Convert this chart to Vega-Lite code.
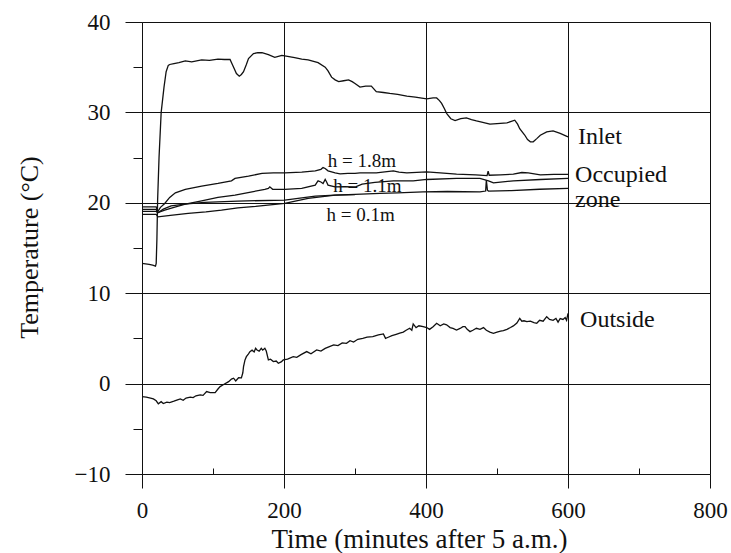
{
  "$schema": "https://vega.github.io/schema/vega-lite/v6.json",
  "width": 568,
  "height": 452,
  "autosize": {"type": "none"},
  "padding": {"left": 142, "top": 22, "right": 21, "bottom": 79},
  "background": "white",
  "config": {"view": {"stroke": null}, "font": "Liberation Serif"},
  "datasets": {
    "lines": [
      {"series": "Inlet", "t": 0, "T": 13.3}, {"series": "Inlet", "t": 10, "T": 13.2}, {"series": "Inlet", "t": 15, "T": 13.1}, {"series": "Inlet", "t": 19, "T": 13.0}, {"series": "Inlet", "t": 20, "T": 13.3}, {"series": "Inlet", "t": 21, "T": 16}, {"series": "Inlet", "t": 22, "T": 20.3}, {"series": "Inlet", "t": 24, "T": 25}, {"series": "Inlet", "t": 27, "T": 30}, {"series": "Inlet", "t": 31, "T": 32.8}, {"series": "Inlet", "t": 34, "T": 34.5}, {"series": "Inlet", "t": 37, "T": 35.2}, {"series": "Inlet", "t": 39, "T": 35.3}, {"series": "Inlet", "t": 45, "T": 35.4}, {"series": "Inlet", "t": 52, "T": 35.5}, {"series": "Inlet", "t": 61, "T": 35.7}, {"series": "Inlet", "t": 70, "T": 35.6}, {"series": "Inlet", "t": 84, "T": 35.8}, {"series": "Inlet", "t": 95, "T": 35.75}, {"series": "Inlet", "t": 107, "T": 35.9}, {"series": "Inlet", "t": 116, "T": 35.85}, {"series": "Inlet", "t": 124, "T": 35.85}, {"series": "Inlet", "t": 129, "T": 35.0}, {"series": "Inlet", "t": 133, "T": 34.3}, {"series": "Inlet", "t": 137, "T": 34.0}, {"series": "Inlet", "t": 140, "T": 34.2}, {"series": "Inlet", "t": 143, "T": 34.5}, {"series": "Inlet", "t": 147, "T": 35.3}, {"series": "Inlet", "t": 150, "T": 35.95}, {"series": "Inlet", "t": 157, "T": 36.5}, {"series": "Inlet", "t": 163, "T": 36.6}, {"series": "Inlet", "t": 169, "T": 36.6}, {"series": "Inlet", "t": 178, "T": 36.4}, {"series": "Inlet", "t": 187, "T": 36.1}, {"series": "Inlet", "t": 192, "T": 36.2}, {"series": "Inlet", "t": 197, "T": 36.3}, {"series": "Inlet", "t": 205, "T": 36.2}, {"series": "Inlet", "t": 215, "T": 36.05}, {"series": "Inlet", "t": 225, "T": 35.9}, {"series": "Inlet", "t": 234, "T": 35.8}, {"series": "Inlet", "t": 248, "T": 35.5}, {"series": "Inlet", "t": 258, "T": 35.0}, {"series": "Inlet", "t": 262, "T": 34.6}, {"series": "Inlet", "t": 267, "T": 33.9}, {"series": "Inlet", "t": 272, "T": 33.6}, {"series": "Inlet", "t": 277, "T": 33.4}, {"series": "Inlet", "t": 284, "T": 33.5}, {"series": "Inlet", "t": 291, "T": 33.6}, {"series": "Inlet", "t": 296, "T": 33.4}, {"series": "Inlet", "t": 300, "T": 33.2}, {"series": "Inlet", "t": 307, "T": 32.8}, {"series": "Inlet", "t": 315, "T": 32.9}, {"series": "Inlet", "t": 323, "T": 32.9}, {"series": "Inlet", "t": 330, "T": 32.3}, {"series": "Inlet", "t": 340, "T": 32.2}, {"series": "Inlet", "t": 349, "T": 32.1}, {"series": "Inlet", "t": 360, "T": 32.0}, {"series": "Inlet", "t": 373, "T": 31.8}, {"series": "Inlet", "t": 385, "T": 31.7}, {"series": "Inlet", "t": 401, "T": 31.5}, {"series": "Inlet", "t": 410, "T": 31.6}, {"series": "Inlet", "t": 415, "T": 31.6}, {"series": "Inlet", "t": 419, "T": 31.3}, {"series": "Inlet", "t": 422, "T": 31.0}, {"series": "Inlet", "t": 426, "T": 30.4}, {"series": "Inlet", "t": 429, "T": 29.9}, {"series": "Inlet", "t": 435, "T": 29.3}, {"series": "Inlet", "t": 441, "T": 29.1}, {"series": "Inlet", "t": 449, "T": 29.3}, {"series": "Inlet", "t": 457, "T": 29.4}, {"series": "Inlet", "t": 464, "T": 29.2}, {"series": "Inlet", "t": 471, "T": 29.06}, {"series": "Inlet", "t": 480, "T": 28.9}, {"series": "Inlet", "t": 490, "T": 28.7}, {"series": "Inlet", "t": 500, "T": 28.75}, {"series": "Inlet", "t": 514, "T": 28.84}, {"series": "Inlet", "t": 525, "T": 29.14}, {"series": "Inlet", "t": 529, "T": 28.7}, {"series": "Inlet", "t": 532, "T": 28.2}, {"series": "Inlet", "t": 539, "T": 27.5}, {"series": "Inlet", "t": 543, "T": 27.0}, {"series": "Inlet", "t": 547, "T": 26.74}, {"series": "Inlet", "t": 551, "T": 26.75}, {"series": "Inlet", "t": 556, "T": 27.1}, {"series": "Inlet", "t": 561, "T": 27.48}, {"series": "Inlet", "t": 570, "T": 27.85}, {"series": "Inlet", "t": 579, "T": 27.96}, {"series": "Inlet", "t": 589, "T": 27.67}, {"series": "Inlet", "t": 600, "T": 27.3},

      {"series": "h18", "t": 0, "T": 19.55}, {"series": "h18", "t": 20, "T": 19.55}, {"series": "h18", "t": 22, "T": 19.0}, {"series": "h18", "t": 26, "T": 19.5}, {"series": "h18", "t": 32, "T": 19.93}, {"series": "h18", "t": 39, "T": 20.6}, {"series": "h18", "t": 47, "T": 21.1}, {"series": "h18", "t": 61, "T": 21.48}, {"series": "h18", "t": 84, "T": 21.85}, {"series": "h18", "t": 107, "T": 22.14}, {"series": "h18", "t": 126, "T": 22.43}, {"series": "h18", "t": 131, "T": 22.7}, {"series": "h18", "t": 150, "T": 22.95}, {"series": "h18", "t": 169, "T": 23.25}, {"series": "h18", "t": 185, "T": 23.3}, {"series": "h18", "t": 201, "T": 23.3}, {"series": "h18", "t": 225, "T": 23.4}, {"series": "h18", "t": 244, "T": 23.54}, {"series": "h18", "t": 252, "T": 23.7}, {"series": "h18", "t": 255, "T": 23.9}, {"series": "h18", "t": 258, "T": 23.8}, {"series": "h18", "t": 262, "T": 23.54}, {"series": "h18", "t": 272, "T": 23.3}, {"series": "h18", "t": 279, "T": 23.2}, {"series": "h18", "t": 290, "T": 23.25}, {"series": "h18", "t": 300, "T": 23.25}, {"series": "h18", "t": 307, "T": 23.3}, {"series": "h18", "t": 330, "T": 23.3}, {"series": "h18", "t": 345, "T": 23.45}, {"series": "h18", "t": 354, "T": 23.54}, {"series": "h18", "t": 362, "T": 23.4}, {"series": "h18", "t": 373, "T": 23.3}, {"series": "h18", "t": 401, "T": 23.43}, {"series": "h18", "t": 420, "T": 23.3}, {"series": "h18", "t": 443, "T": 23.17}, {"series": "h18", "t": 470, "T": 23.1}, {"series": "h18", "t": 486, "T": 23.0}, {"series": "h18", "t": 487.5, "T": 23.5}, {"series": "h18", "t": 489, "T": 23.05}, {"series": "h18", "t": 505, "T": 23.1}, {"series": "h18", "t": 523, "T": 23.17}, {"series": "h18", "t": 535, "T": 23.35}, {"series": "h18", "t": 544, "T": 23.3}, {"series": "h18", "t": 561, "T": 23.1}, {"series": "h18", "t": 580, "T": 23.15}, {"series": "h18", "t": 600, "T": 23.14},

      {"series": "h11", "t": 0, "T": 19.27}, {"series": "h11", "t": 20, "T": 19.27}, {"series": "h11", "t": 22, "T": 18.9}, {"series": "h11", "t": 32, "T": 19.2}, {"series": "h11", "t": 45, "T": 19.5}, {"series": "h11", "t": 61, "T": 19.86}, {"series": "h11", "t": 84, "T": 20.22}, {"series": "h11", "t": 107, "T": 20.6}, {"series": "h11", "t": 131, "T": 20.85}, {"series": "h11", "t": 155, "T": 21.22}, {"series": "h11", "t": 173, "T": 21.48}, {"series": "h11", "t": 178, "T": 21.6}, {"series": "h11", "t": 180, "T": 21.77}, {"series": "h11", "t": 184, "T": 21.5}, {"series": "h11", "t": 201, "T": 21.48}, {"series": "h11", "t": 225, "T": 21.6}, {"series": "h11", "t": 244, "T": 21.96}, {"series": "h11", "t": 246, "T": 22.2}, {"series": "h11", "t": 248, "T": 22.43}, {"series": "h11", "t": 252, "T": 22.3}, {"series": "h11", "t": 255, "T": 22.14}, {"series": "h11", "t": 258, "T": 22.58}, {"series": "h11", "t": 260, "T": 22.3}, {"series": "h11", "t": 262, "T": 21.96}, {"series": "h11", "t": 272, "T": 21.77}, {"series": "h11", "t": 285, "T": 21.8}, {"series": "h11", "t": 300, "T": 21.75}, {"series": "h11", "t": 310, "T": 22.07}, {"series": "h11", "t": 328, "T": 22.25}, {"series": "h11", "t": 354, "T": 22.43}, {"series": "h11", "t": 382, "T": 22.43}, {"series": "h11", "t": 401, "T": 22.58}, {"series": "h11", "t": 443, "T": 22.7}, {"series": "h11", "t": 476, "T": 22.7}, {"series": "h11", "t": 488, "T": 22.43}, {"series": "h11", "t": 495, "T": 22.2}, {"series": "h11", "t": 523, "T": 22.43}, {"series": "h11", "t": 561, "T": 22.58}, {"series": "h11", "t": 600, "T": 22.7},

      {"series": "h06", "t": 0, "T": 19.05}, {"series": "h06", "t": 20, "T": 19.05}, {"series": "h06", "t": 22.5, "T": 18.9}, {"series": "h06", "t": 30, "T": 19.3}, {"series": "h06", "t": 41, "T": 19.67}, {"series": "h06", "t": 60, "T": 19.85}, {"series": "h06", "t": 88, "T": 20.04}, {"series": "h06", "t": 135, "T": 20.19}, {"series": "h06", "t": 201, "T": 20.3}, {"series": "h06", "t": 244, "T": 20.74}, {"series": "h06", "t": 272, "T": 20.85}, {"series": "h06", "t": 300, "T": 20.93}, {"series": "h06", "t": 335, "T": 21.05}, {"series": "h06", "t": 360, "T": 21.1}, {"series": "h06", "t": 396, "T": 21.2}, {"series": "h06", "t": 430, "T": 21.25}, {"series": "h06", "t": 476, "T": 21.2}, {"series": "h06", "t": 484, "T": 21.3}, {"series": "h06", "t": 485, "T": 22.5}, {"series": "h06", "t": 486.5, "T": 21.4}, {"series": "h06", "t": 488, "T": 21.3}, {"series": "h06", "t": 520, "T": 21.35}, {"series": "h06", "t": 560, "T": 21.5}, {"series": "h06", "t": 600, "T": 21.6},

      {"series": "h01", "t": 0, "T": 18.72}, {"series": "h01", "t": 20, "T": 18.72}, {"series": "h01", "t": 22.5, "T": 18.45}, {"series": "h01", "t": 40, "T": 18.6}, {"series": "h01", "t": 65, "T": 18.83}, {"series": "h01", "t": 90, "T": 19.0}, {"series": "h01", "t": 112, "T": 19.2}, {"series": "h01", "t": 135, "T": 19.45}, {"series": "h01", "t": 160, "T": 19.6}, {"series": "h01", "t": 201, "T": 19.93}, {"series": "h01", "t": 234, "T": 20.5}, {"series": "h01", "t": 272, "T": 20.85}, {"series": "h01", "t": 300, "T": 20.9},

      {"series": "Outside", "t": 0, "T": -1.44}, {"series": "Outside", "t": 6, "T": -1.5}, {"series": "Outside", "t": 12, "T": -1.6}, {"series": "Outside", "t": 16, "T": -1.7}, {"series": "Outside", "t": 20, "T": -1.9}, {"series": "Outside", "t": 23, "T": -2.24}, {"series": "Outside", "t": 27, "T": -2.0}, {"series": "Outside", "t": 30, "T": -2.2}, {"series": "Outside", "t": 35, "T": -2.05}, {"series": "Outside", "t": 39, "T": -2.1}, {"series": "Outside", "t": 45, "T": -1.95}, {"series": "Outside", "t": 50, "T": -1.8}, {"series": "Outside", "t": 54, "T": -1.7}, {"series": "Outside", "t": 58, "T": -1.85}, {"series": "Outside", "t": 62, "T": -1.6}, {"series": "Outside", "t": 68, "T": -1.5}, {"series": "Outside", "t": 72, "T": -1.55}, {"series": "Outside", "t": 76, "T": -1.35}, {"series": "Outside", "t": 82, "T": -1.25}, {"series": "Outside", "t": 86, "T": -1.3}, {"series": "Outside", "t": 91, "T": -0.88}, {"series": "Outside", "t": 96, "T": -1.0}, {"series": "Outside", "t": 103, "T": -1.0}, {"series": "Outside", "t": 107, "T": -0.6}, {"series": "Outside", "t": 110, "T": -0.33}, {"series": "Outside", "t": 115, "T": -0.1}, {"series": "Outside", "t": 122, "T": 0.22}, {"series": "Outside", "t": 126, "T": 0.5}, {"series": "Outside", "t": 129, "T": 0.6}, {"series": "Outside", "t": 132, "T": 0.3}, {"series": "Outside", "t": 136, "T": 0.65}, {"series": "Outside", "t": 140, "T": 0.63}, {"series": "Outside", "t": 142, "T": 1.2}, {"series": "Outside", "t": 143, "T": 1.88}, {"series": "Outside", "t": 145, "T": 2.6}, {"series": "Outside", "t": 147, "T": 2.98}, {"series": "Outside", "t": 150, "T": 3.3}, {"series": "Outside", "t": 152, "T": 3.54}, {"series": "Outside", "t": 155, "T": 3.7}, {"series": "Outside", "t": 158, "T": 3.5}, {"series": "Outside", "t": 160, "T": 3.9}, {"series": "Outside", "t": 162, "T": 3.72}, {"series": "Outside", "t": 165, "T": 3.6}, {"series": "Outside", "t": 168, "T": 3.9}, {"series": "Outside", "t": 170, "T": 3.7}, {"series": "Outside", "t": 173, "T": 3.91}, {"series": "Outside", "t": 175, "T": 3.6}, {"series": "Outside", "t": 178, "T": 2.62}, {"series": "Outside", "t": 181, "T": 2.7}, {"series": "Outside", "t": 185, "T": 2.44}, {"series": "Outside", "t": 189, "T": 2.5}, {"series": "Outside", "t": 192, "T": 2.25}, {"series": "Outside", "t": 196, "T": 2.4}, {"series": "Outside", "t": 199, "T": 2.62}, {"series": "Outside", "t": 205, "T": 2.7}, {"series": "Outside", "t": 213, "T": 2.98}, {"series": "Outside", "t": 218, "T": 2.9}, {"series": "Outside", "t": 224, "T": 3.2}, {"series": "Outside", "t": 232, "T": 3.54}, {"series": "Outside", "t": 238, "T": 3.3}, {"series": "Outside", "t": 246, "T": 3.72}, {"series": "Outside", "t": 252, "T": 3.6}, {"series": "Outside", "t": 258, "T": 3.9}, {"series": "Outside", "t": 264, "T": 4.1}, {"series": "Outside", "t": 270, "T": 4.28}, {"series": "Outside", "t": 276, "T": 4.2}, {"series": "Outside", "t": 282, "T": 4.5}, {"series": "Outside", "t": 288, "T": 4.45}, {"series": "Outside", "t": 293, "T": 4.75}, {"series": "Outside", "t": 298, "T": 4.6}, {"series": "Outside", "t": 304, "T": 4.9}, {"series": "Outside", "t": 311, "T": 5.0}, {"series": "Outside", "t": 317, "T": 5.13}, {"series": "Outside", "t": 325, "T": 5.2}, {"series": "Outside", "t": 333, "T": 5.4}, {"series": "Outside", "t": 340, "T": 5.49}, {"series": "Outside", "t": 343, "T": 5.0}, {"series": "Outside", "t": 346, "T": 5.1}, {"series": "Outside", "t": 352, "T": 5.3}, {"series": "Outside", "t": 358, "T": 5.45}, {"series": "Outside", "t": 363, "T": 5.58}, {"series": "Outside", "t": 368, "T": 5.7}, {"series": "Outside", "t": 372, "T": 5.9}, {"series": "Outside", "t": 377, "T": 6.12}, {"series": "Outside", "t": 380, "T": 5.9}, {"series": "Outside", "t": 382, "T": 6.6}, {"series": "Outside", "t": 386, "T": 6.2}, {"series": "Outside", "t": 390, "T": 6.4}, {"series": "Outside", "t": 396, "T": 6.3}, {"series": "Outside", "t": 401, "T": 6.2}, {"series": "Outside", "t": 405, "T": 6.0}, {"series": "Outside", "t": 410, "T": 6.3}, {"series": "Outside", "t": 415, "T": 6.67}, {"series": "Outside", "t": 420, "T": 6.4}, {"series": "Outside", "t": 425, "T": 6.6}, {"series": "Outside", "t": 429, "T": 6.5}, {"series": "Outside", "t": 434, "T": 6.2}, {"series": "Outside", "t": 438, "T": 6.1}, {"series": "Outside", "t": 443, "T": 5.93}, {"series": "Outside", "t": 448, "T": 6.1}, {"series": "Outside", "t": 452, "T": 6.3}, {"series": "Outside", "t": 455, "T": 6.3}, {"series": "Outside", "t": 458, "T": 6.0}, {"series": "Outside", "t": 462, "T": 5.75}, {"series": "Outside", "t": 466, "T": 5.9}, {"series": "Outside", "t": 471, "T": 6.12}, {"series": "Outside", "t": 476, "T": 6.0}, {"series": "Outside", "t": 481, "T": 6.2}, {"series": "Outside", "t": 485, "T": 5.9}, {"series": "Outside", "t": 490, "T": 5.7}, {"series": "Outside", "t": 495, "T": 5.57}, {"series": "Outside", "t": 500, "T": 5.7}, {"series": "Outside", "t": 505, "T": 5.8}, {"series": "Outside", "t": 509, "T": 5.85}, {"series": "Outside", "t": 514, "T": 6.0}, {"series": "Outside", "t": 519, "T": 6.2}, {"series": "Outside", "t": 523, "T": 6.38}, {"series": "Outside", "t": 528, "T": 6.7}, {"series": "Outside", "t": 532, "T": 7.22}, {"series": "Outside", "t": 535, "T": 6.9}, {"series": "Outside", "t": 538, "T": 6.95}, {"series": "Outside", "t": 542, "T": 6.85}, {"series": "Outside", "t": 547, "T": 6.9}, {"series": "Outside", "t": 552, "T": 6.75}, {"series": "Outside", "t": 556, "T": 6.67}, {"series": "Outside", "t": 560, "T": 7.0}, {"series": "Outside", "t": 565, "T": 6.9}, {"series": "Outside", "t": 570, "T": 7.4}, {"series": "Outside", "t": 574, "T": 7.1}, {"series": "Outside", "t": 579, "T": 7.0}, {"series": "Outside", "t": 583, "T": 7.2}, {"series": "Outside", "t": 586, "T": 6.8}, {"series": "Outside", "t": 589, "T": 7.2}, {"series": "Outside", "t": 593, "T": 7.1}, {"series": "Outside", "t": 596, "T": 7.3}, {"series": "Outside", "t": 598, "T": 7.0}, {"series": "Outside", "t": 600, "T": 7.78}
    ],
    "bigLabels": [
      {"label": "Inlet", "t": 614, "T": 26.45},
      {"label": "Occupied", "t": 610, "T": 22.32},
      {"label": "zone", "t": 610, "T": 19.5},
      {"label": "Outside", "t": 617, "T": 6.23}
    ],
    "smallLabels": [
      {"label": "h = 1.8m", "t": 261.5, "T": 23.98},
      {"label": "h = 1.1m", "t": 269.5, "T": 21.2},
      {"label": "h = 0.1m", "t": 260, "T": 18.0}
    ]
  },
  "layer": [
    {
      "data": {"name": "lines"},
      "mark": {"type": "line", "color": "#111111", "strokeWidth": 1.3},
      "encoding": {
        "x": {
          "field": "t", "type": "quantitative",
          "scale": {"domain": [0, 800], "nice": false, "zero": false},
          "axis": {
            "values": [0, 100, 200, 300, 400, 500, 600, 700, 800],
            "grid": true,
            "gridColor": "#111111",
            "gridWidth": 1,
            "gridOpacity": {"condition": {"test": "datum.value % 200 === 0", "value": 1}, "value": 0},
            "tickColor": "#111111",
            "tickSize": {"condition": {"test": "datum.value % 200 === 0", "value": 14}, "value": -6},
            "labelExpr": "datum.value % 200 === 0 ? datum.label : ''",
            "labelFlush": false,
            "labelOverlap": false,
            "labelFont": "Liberation Serif",
            "labelFontSize": 23,
            "labelColor": "#111111",
            "labelPadding": 11,
            "domainColor": "#111111",
            "title": "Time (minutes after 5 a.m.)",
            "titleFont": "Liberation Serif",
            "titleFontSize": 27,
            "titleFontWeight": "normal",
            "titleColor": "#111111",
            "titleBaseline": "alphabetic",
            "titleAlign": "center",
            "titleX": 277,
            "titleY": 73
          }
        },
        "y": {
          "field": "T", "type": "quantitative",
          "scale": {"domain": [-10, 40], "nice": false, "zero": false},
          "axis": {
            "values": [-10, -5, 0, 5, 10, 15, 20, 25, 30, 35, 40],
            "grid": true,
            "gridColor": "#111111",
            "gridWidth": 1,
            "gridOpacity": {"condition": {"test": "datum.value % 10 === 0", "value": 1}, "value": 0},
            "tickColor": "#111111",
            "tickSize": {"condition": {"test": "datum.value % 10 === 0", "value": 17}, "value": 9},
            "labelExpr": "datum.value % 10 === 0 ? datum.label : ''",
            "labelFlush": false,
            "labelOverlap": false,
            "labelFont": "Liberation Serif",
            "labelFontSize": 23,
            "labelColor": "#111111",
            "labelPadding": 15,
            "domainColor": "#111111",
            "title": "Temperature (°C)",
            "titleFont": "Liberation Serif",
            "titleFontSize": 26,
            "titleFontWeight": "normal",
            "titleColor": "#111111",
            "titleBaseline": "alphabetic",
            "titleAlign": "center",
            "titleAngle": -90,
            "titleX": -105,
            "titleY": 225
          }
        },
        "detail": {"field": "series"}
      }
    },
    {
      "data": {"name": "bigLabels"},
      "mark": {"type": "text", "align": "left", "baseline": "alphabetic", "font": "Liberation Serif", "fontSize": 24, "color": "#111111"},
      "encoding": {
        "x": {"field": "t", "type": "quantitative"},
        "y": {"field": "T", "type": "quantitative"},
        "text": {"field": "label"}
      }
    },
    {
      "data": {"name": "smallLabels"},
      "mark": {"type": "text", "align": "left", "baseline": "alphabetic", "font": "Liberation Serif", "fontSize": 19, "color": "#111111"},
      "encoding": {
        "x": {"field": "t", "type": "quantitative"},
        "y": {"field": "T", "type": "quantitative"},
        "text": {"field": "label"}
      }
    }
  ]
}
